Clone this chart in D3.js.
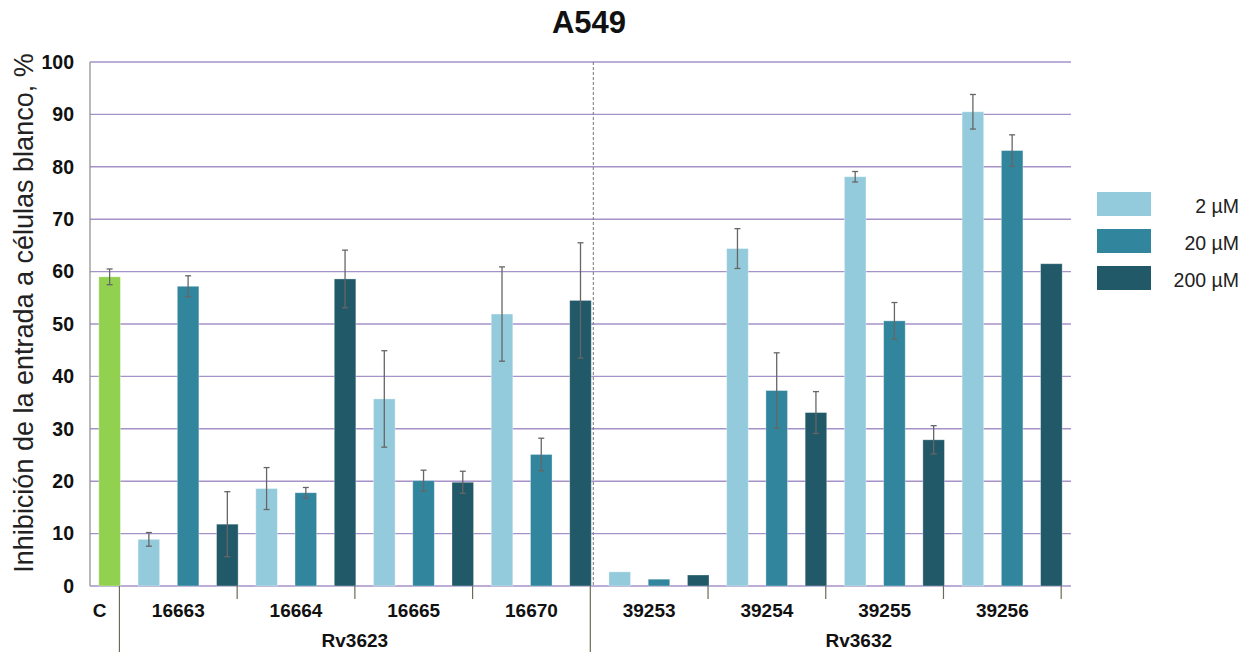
<!DOCTYPE html>
<html>
<head>
<meta charset="utf-8">
<script src="https://cdn.jsdelivr.net/npm/d3@7"></script>
<style>
  body { margin: 0; background: #fff; }
  text { font-family: "Liberation Sans", Arial, sans-serif; }
</style>
</head>
<body>
<div class="chart"></div>
<script>
// data
var groups = ["16663", "16664", "16665", "16670", "39253", "39254", "39255", "39256"];
var families = ["Rv3623", "Rv3632"];
var seriesNames = ["2 µM", "20 µM", "200 µM"];
var val2 = [8.9, 18.6, 35.7, 51.9, 2.7, 64.4, 78.1, 90.5];
var err2 = [1.3, 4.0, 9.2, 9.0, 0, 3.8, 1.0, 3.3];
var val20 = [57.2, 17.8, 20.1, 25.1, 1.3, 37.3, 50.6, 83.1];
var err20 = [2.0, 1.0, 2.0, 3.1, 0, 7.2, 3.5, 3.0];
var val200 = [11.8, 58.6, 19.8, 54.5, 2.1, 33.1, 27.9, 61.5];
var err200 = [6.2, 5.5, 2.1, 11.0, 0, 4.0, 2.7, 0];
var control = { label: "C", value: 59.0, err: 1.5 };
var yTicks = [0, 10, 20, 30, 40, 50, 60, 70, 80, 90, 100];

var colors = ["#94cbdc", "#31869e", "#215968"];
var ctrlColor = "#92d050";

(function() {
  var W = 1250, H = 652;
  var svg = d3.select('.chart').append('svg')
    .attr('width', W).attr('height', H);

  var left = 90, right = 1071, top = 62, bottom = 586;

  var y = d3.scaleLinear().domain([0, 100]).range([bottom, top]);

  // 25 slots: control + 8 groups x 3 concentrations
  var slots = d3.range(25);
  var x = d3.scaleBand().domain(slots).range([left, right]).paddingInner(0.45).paddingOuter(0.225);

  var vals = [val2, val20, val200];
  var errs = [err2, err20, err200];
  var bars = [{ slot: 0, v: control.value, e: control.err, c: ctrlColor }];
  groups.forEach(function(g, gi) {
    seriesNames.forEach(function(s, si) {
      bars.push({ slot: 1 + gi * 3 + si, v: vals[si][gi], e: errs[si][gi], c: colors[si] });
    });
  });

  // title
  svg.append('text')
    .attr('x', 589).attr('y', 33)
    .attr('text-anchor', 'middle')
    .style('font-size', '31px').style('font-weight', 'bold').style('fill', '#111')
    .text('A549');

  // gridlines
  svg.append('g').selectAll('line').data(yTicks).enter().append('line')
    .attr('x1', left).attr('x2', 1071)
    .attr('y1', function(d) { return y(d); }).attr('y2', function(d) { return y(d); })
    .style('stroke', '#a592c8').style('stroke-width', 1.4);

  // y axis line
  svg.append('line').attr('x1', left).attr('x2', left).attr('y1', top).attr('y2', bottom)
    .style('stroke', '#8a8a8a').style('stroke-width', 1.2);

  // y tick labels
  svg.append('g').selectAll('text').data(yTicks).enter().append('text')
    .attr('x', 74).attr('y', function(d) { return y(d); })
    .attr('dy', '0.35em').attr('text-anchor', 'end')
    .style('font-size', '19.5px').style('font-weight', 'bold').style('fill', '#111')
    .text(function(d) { return d; });

  // y title
  svg.append('text')
    .attr('transform', 'translate(33,' + 313 + ') rotate(-90)')
    .attr('text-anchor', 'middle')
    .style('font-size', '27px').style('fill', '#222')
    .text('Inhibición de la entrada a células blanco, %');

  var step = x.step();
  var tickX = function(k) { return left + step * (0.75 + 3 * k); };

  // dashed separator between families
  svg.append('line')
    .attr('x1', tickX(4) + 3).attr('x2', tickX(4) + 3).attr('y1', top).attr('y2', bottom)
    .style('stroke', '#777').style('stroke-width', 1).style('stroke-dasharray', '3,2');

  // bars
  svg.append('g').selectAll('rect').data(bars).enter().append('rect')
    .attr('x', function(d) { return x(d.slot); })
    .attr('width', x.bandwidth())
    .attr('y', function(d) { return y(d.v); })
    .attr('height', function(d) { return bottom - y(d.v); })
    .style('fill', function(d) { return d.c; })
    .style('stroke', '#ffffff').style('stroke-opacity', 0.4).style('stroke-width', 0.8);

  // error bars
  var eb = svg.append('g').selectAll('g').data(bars.filter(function(d) { return d.e > 0; }))
    .enter().append('g')
    .style('stroke', '#666').style('stroke-width', 1.3);
  eb.append('line')
    .attr('x1', function(d) { return x(d.slot) + x.bandwidth() / 2; })
    .attr('x2', function(d) { return x(d.slot) + x.bandwidth() / 2; })
    .attr('y1', function(d) { return y(d.v + d.e); })
    .attr('y2', function(d) { return y(d.v - d.e); });
  [1, -1].forEach(function(sgn) {
    eb.append('line')
      .attr('x1', function(d) { return x(d.slot) + x.bandwidth() / 2 - 3; })
      .attr('x2', function(d) { return x(d.slot) + x.bandwidth() / 2 + 3; })
      .attr('y1', function(d) { return y(d.v + sgn * d.e); })
      .attr('y2', function(d) { return y(d.v + sgn * d.e); });
  });

  // category axis ticks
  d3.range(9).forEach(function(k) {
    var long = (k === 0 || k === 4);
    svg.append('line')
      .attr('x1', tickX(k)).attr('x2', tickX(k))
      .attr('y1', bottom).attr('y2', long ? H : bottom + 13)
      .style('stroke', '#6e6a55').style('stroke-width', 1.2);
  });

  // labels
  svg.append('text')
    .attr('x', x(0) + x.bandwidth() / 2 - 10).attr('y', 617)
    .attr('text-anchor', 'middle')
    .style('font-size', '19px').style('font-weight', 'bold').style('fill', '#111')
    .text(control.label);

  svg.append('g').selectAll('text').data(groups).enter().append('text')
    .attr('x', function(d, i) { return (tickX(i) + tickX(i + 1)) / 2; })
    .attr('y', 617).attr('text-anchor', 'middle')
    .style('font-size', '19px').style('font-weight', 'bold').style('fill', '#111')
    .text(function(d) { return d; });

  svg.append('g').selectAll('text').data(families).enter().append('text')
    .attr('x', function(d, i) { return i === 0 ? (tickX(0) + tickX(4)) / 2 : (tickX(4) + tickX(8)) / 2 + 33; })
    .attr('y', 647).attr('text-anchor', 'middle')
    .style('font-size', '19px').style('font-weight', 'bold').style('fill', '#111')
    .text(function(d) { return d; });

  // legend
  var legend = svg.selectAll('.legend').data(seriesNames).enter().append('g')
    .attr('class', 'legend')
    .attr('transform', function(d, i) { return 'translate(1097,' + (192 + i * 37) + ')'; });
  legend.append('rect')
    .attr('width', 54).attr('height', 24)
    .style('fill', function(d, i) { return colors[i]; });
  legend.append('text')
    .attr('x', 142).attr('y', 13).attr('dy', '0.4em')
    .attr('text-anchor', 'end')
    .style('font-size', '19.5px').style('fill', '#222')
    .text(function(d) { return d; });
})();
</script>
</body>
</html>
